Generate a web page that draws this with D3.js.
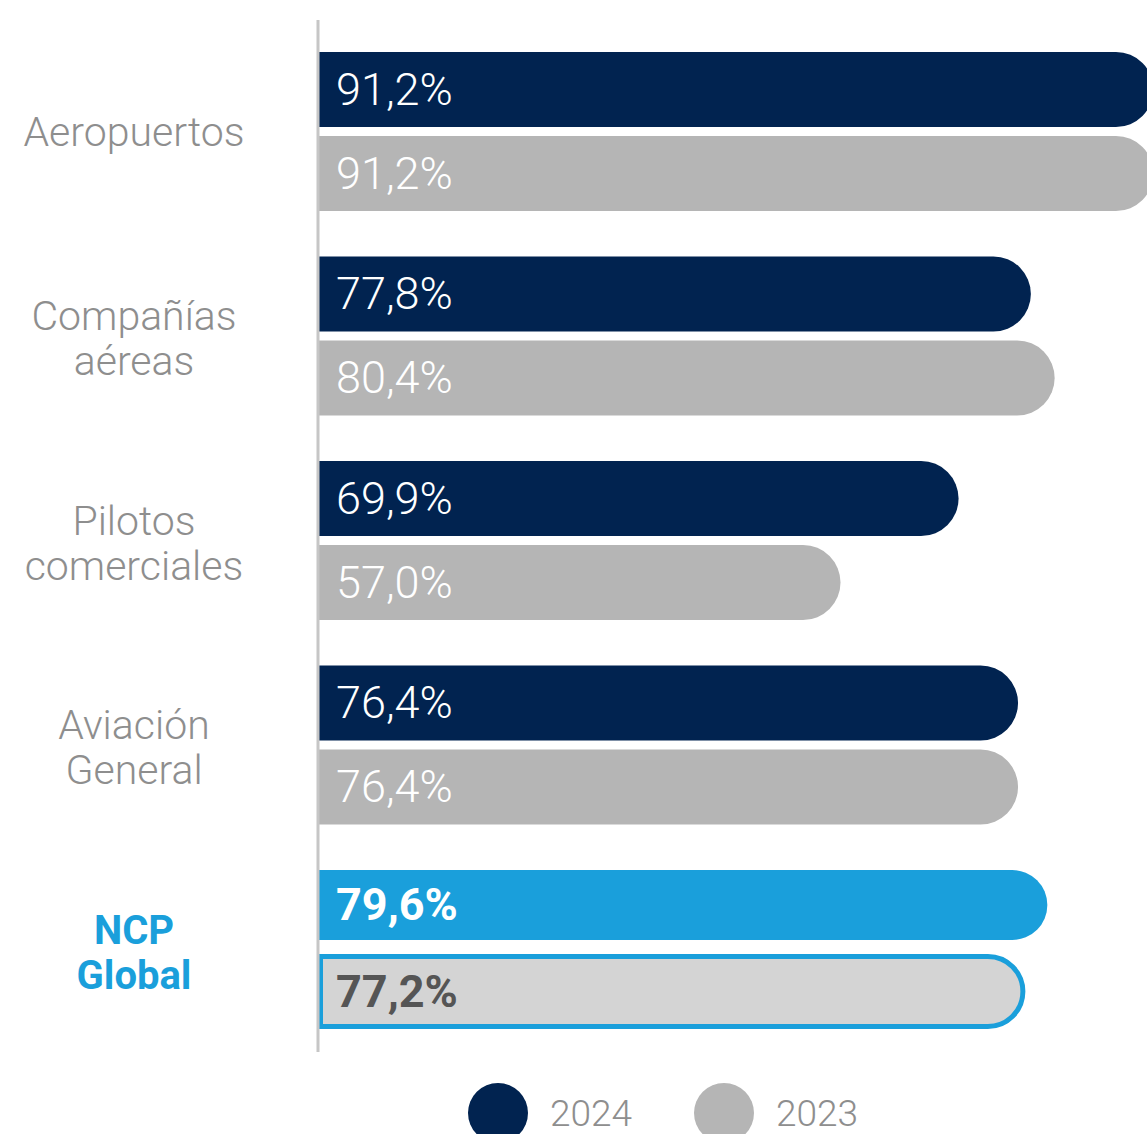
<!DOCTYPE html>
<html><head><meta charset="utf-8">
<script src="https://cdn.jsdelivr.net/npm/d3@7"></script>
<style>html,body{margin:0;padding:0;background:#fff;overflow:hidden}</style>
</head><body>
<svg id="c" width="1147" height="1134"></svg>
<script>
const categories = [["Aeropuertos"], ["Compañías","aéreas"], ["Pilotos","comerciales"], ["Aviación","General"], ["NCP","Global"]];
const values2024 = [91.2, 77.8, 69.9, 76.4, 79.6];
const values2023 = [91.2, 80.4, 57.0, 76.4, 77.2];
const seriesNames = ["2024", "2023"];
const fmt = v => d3.format(".1f")(v).replace(".", ",") + "%";

const svg = d3.select("#c");
const x0 = 319;
const x = d3.scaleLinear().domain([0, 100]).range([x0, x0 + 915]);
const y = d3.scaleBand().domain(d3.range(categories.length)).range([29.25, 1051.75]).paddingInner(0);
const navy = "#012350", gray = "#b5b5b5", blue = "#1a9fdb", light = "#d4d4d4";
const barH = 75, gapIn = 9;

function barPath(xs, xe, yt, h) {
  const r = h / 2;
  return `M${xs},${yt}H${xe - r}A${r},${r} 0 0 1 ${xe - r},${yt + h}H${xs}Z`;
}

categories.forEach((cat, i) => {
  const isG = i === categories.length - 1;
  const cy = y(i) + y.bandwidth() / 2;
  const top1 = cy - gapIn / 2 - barH;
  const top2 = cy + gapIn / 2;
  const h1 = isG ? 70 : barH;
  svg.append("path").attr("d", barPath(x0, x(values2024[i]), top1, h1))
    .attr("fill", isG ? blue : navy);
  if (isG) {
    const sw = 5;
    svg.append("path").attr("d", barPath(x0 + sw / 2 - 1, x(values2023[i]) - sw / 2, top2 + sw / 2, barH - sw))
      .attr("fill", light).attr("stroke", blue).attr("stroke-width", sw);
  } else {
    svg.append("path").attr("d", barPath(x0, x(values2023[i]), top2, barH)).attr("fill", gray);
  }
  svg.append("text").attr("x", 336).attr("y", top1 + h1 / 2 + 15)
    .attr("font-family", "Roboto").attr("font-size", 45)
    .attr("font-weight", isG ? 700 : 300).attr("fill", "#fff")
    .text(fmt(values2024[i]));
  svg.append("text").attr("x", 336).attr("y", top2 + barH / 2 + 15)
    .attr("font-family", "Roboto").attr("font-size", 45)
    .attr("font-weight", isG ? 700 : 300).attr("fill", isG ? "#555555" : "#ffffff")
    .text(fmt(values2023[i]));
  const t = svg.append("text").attr("text-anchor", "middle")
    .attr("font-family", "Roboto").attr("font-size", isG ? 40 : 41)
    .attr("font-weight", isG ? 700 : 300).attr("fill", isG ? blue : "#8e8e8e");
  if (cat.length === 1) {
    t.append("tspan").attr("x", 134).attr("y", cy + 14).text(cat[0]);
  } else {
    cat.forEach((l, k) => t.append("tspan").attr("x", 134).attr("y", cy - 6 + k * 45).text(l));
  }
});

svg.append("line").attr("x1", 318).attr("x2", 318).attr("y1", 20).attr("y2", 1052)
  .attr("stroke", "#c6c6c6").attr("stroke-width", 3);

const legX = [498, 724];
const legCol = [navy, gray];
seriesNames.forEach((s, i) => {
  svg.append("circle").attr("cx", legX[i]).attr("cy", 1113).attr("r", 30).attr("fill", legCol[i]);
  svg.append("text").attr("x", legX[i] + 52).attr("y", 1126)
    .attr("font-family", "Roboto").attr("font-size", 37).attr("font-weight", 300)
    .attr("fill", "#8e8e8e").text(s);
});
</script>
</body></html>
